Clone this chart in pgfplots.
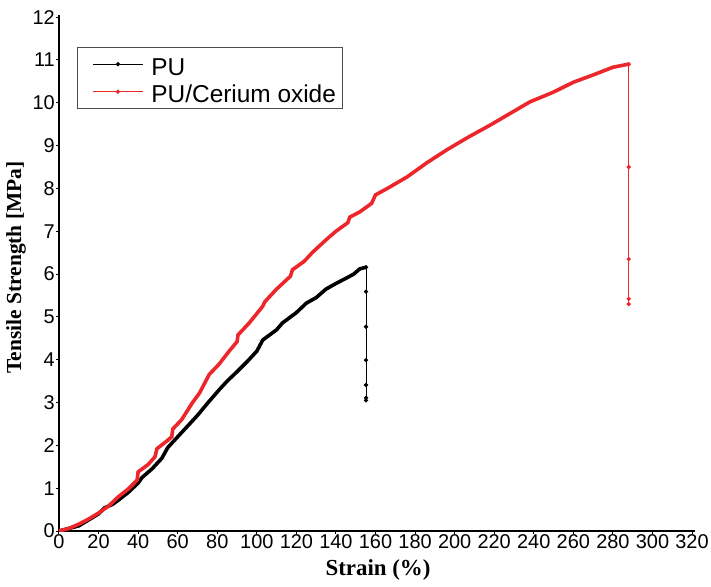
\documentclass[border=0pt]{standalone}
\usepackage{pgfplots}
\pgfplotsset{compat=1.18}
\usepackage{fontspec}
\setmainfont{Liberation Sans}
\newfontfamily\serifbf{Liberation Serif}
\definecolor{myred}{RGB}{236,38,42}
\begin{document}
\begin{tikzpicture}
\begin{axis}[
  at={(0,0)}, anchor=south west,
  scale only axis,
  width=636bp, height=516bp,
  xmin=0, xmax=321.5, ymin=0, ymax=12.05,
  axis lines=left,
  axis line style={-, line width=1.4bp},
  xtick={0,20,...,320}, ytick={0,1,...,12},
  tick align=outside, major tick length=3bp,
  tick style={line width=1bp, black},
  /pgf/number format/assume math mode=true,
  tick label style={font=\fontsize{20}{22}\selectfont},
  xticklabel style={inner sep=1bp, yshift=1bp},
  yticklabel style={inner sep=1bp},
  xlabel={\serifbf\bfseries Strain (\%)},
  ylabel={\serifbf\bfseries Tensile Strength [MPa]},
  xlabel style={font=\fontsize{23}{25}\selectfont, at={(axis description cs:0.5016,-0.0759)}, anchor=center},
  ylabel style={font=\fontsize{21.5}{24}\selectfont, at={(axis description cs:-0.0676,0.5107)}, anchor=center},
  legend cell align=left,
  legend style={at={(axis description cs:0.0283,0.938)}, anchor=north west,
    draw=black!70, line width=0.9bp, font=\fontsize{24.5}{27}\selectfont,
    inner xsep=7bp, inner ysep=3bp, row sep=0bp, column sep=8bp,
    nodes={inner sep=0bp, text height=25bp, text depth=2.5bp}},
  legend image code/.code={%
    \path (0bp,0bp);
    \draw[line width=1bp, mark repeat=2, mark phase=2] plot coordinates {(8bp,0bp) (33bp,0bp) (58bp,0bp)};},
]
% main curves
\addplot[black, line width=3.6bp, forget plot] coordinates {
(0,0) (10,0.12) (20,0.4) (23,0.54) (27,0.62) (30,0.72) (35,0.9) (40,1.12)
(42,1.25) (47,1.45) (52,1.7) (55,1.95) (60,2.2) (65,2.45) (70,2.7) (75,2.98)
(81,3.3) (85,3.5) (90,3.72) (95,3.95) (100,4.2) (103,4.46) (110,4.7) (113,4.86)
(120,5.1) (125,5.32) (130,5.45) (135,5.65) (140,5.78) (145,5.9) (149,6.0)
(152,6.12) (155.2,6.16)};
\addplot[myred, line width=3.6bp, forget plot] coordinates {
(0,0) (5,0.06) (10,0.16) (15,0.28) (20,0.42) (25,0.58) (30,0.8) (35,0.98)
(39.5,1.19) (40,1.38) (45,1.55) (48.5,1.73) (49.5,1.92) (55,2.12) (57,2.2)
(57.5,2.38) (62,2.6) (67.5,3.0) (71,3.22) (76,3.66) (81,3.9) (86,4.2) (90,4.42)
(90.5,4.58) (96,4.85) (103,5.25) (104,5.35) (110,5.65) (117,5.95) (118,6.1)
(124,6.3) (128,6.5) (135,6.8) (140,7.0) (146,7.2) (147,7.33) (152,7.45)
(158,7.65) (160,7.85) (166,8.0) (176,8.27) (186,8.6) (196,8.9) (207,9.2)
(218,9.48) (228,9.75) (238,10.02) (250,10.25) (260,10.48) (270,10.65)
(280,10.83) (287.7,10.9)};
% drop segments (legend entries)
\addplot[black, line width=1bp, mark=*, mark size=1.6bp] coordinates {
(155.2,6.16) (155.2,5.59) (155.2,4.77) (155.2,3.99) (155.2,3.41) (155.2,3.11) (155.2,3.05)};
\addlegendentry{PU}
\addplot[myred, line width=1bp, mark=*, mark size=1.6bp] coordinates {
(288,10.9) (288,8.5) (288,6.35) (288,5.42) (288,5.3)};
\addlegendentry{PU/Cerium oxide}
\end{axis}
\pgfresetboundingbox
\path[use as bounding box] (-59bp,-56bp) rectangle (652bp,531bp);
\end{tikzpicture}
\end{document}
